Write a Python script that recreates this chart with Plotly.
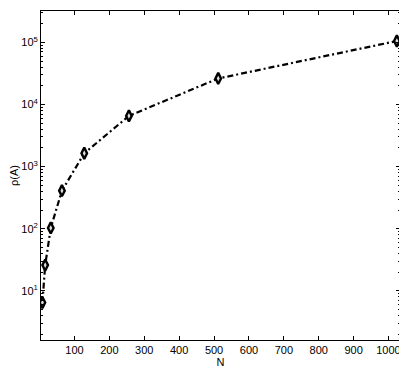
import plotly.graph_objects as go

N = [8, 16, 32, 64, 128, 256, 512, 1024]
rho = [6.5, 26, 103, 410, 1640, 6550, 26200, 105000]
x_ticks = [100, 200, 300, 400, 500, 600, 700, 800, 900, 1000]
y_ticks = [10, 100, 1000, 10000, 100000]
y_tick_text = ["10<sup>1</sup>", "10<sup>2</sup>", "10<sup>3</sup>", "10<sup>4</sup>", "10<sup>5</sup>"]

fig = go.Figure()
fig.add_trace(go.Scatter(
    x=N, y=rho, mode="lines+markers",
    line=dict(color="black", width=2.2, dash="6px,3px,2px,3px"),
    marker=dict(symbol="diamond-tall", size=8, color="#dddddd",
                line=dict(color="black", width=2.4)),
    showlegend=False,
))

font = dict(family="Liberation Sans, Arial, sans-serif", size=11, color="black")
fig.update_layout(
    width=399, height=366,
    margin=dict(l=31, r=7, t=2, b=34),
    paper_bgcolor="white", plot_bgcolor="white",
    font=font,
    xaxis=dict(
        range=[4, 1033], tickvals=x_ticks, ticks="inside", ticklen=4,
        tickcolor="black", showline=True, linecolor="black", linewidth=1,
        mirror="ticks", showgrid=False, zeroline=False, tickfont=font,
        title=dict(text="N", standoff=2, font=font),
    ),
    yaxis=dict(
        type="log", range=[0.21, 5.504], tickvals=y_ticks, ticktext=y_tick_text,
        ticks="inside", ticklen=4, tickcolor="black", showline=True,
        linecolor="black", linewidth=1, mirror="ticks", showgrid=False,
        zeroline=False, tickfont=font,
        minor=dict(ticks="inside", ticklen=2, tickcolor="black", dtick="D1", showgrid=False),
        title=dict(text="ρ(A)", standoff=4, font=font),
    ),
)

fig.write_html("out.html")
